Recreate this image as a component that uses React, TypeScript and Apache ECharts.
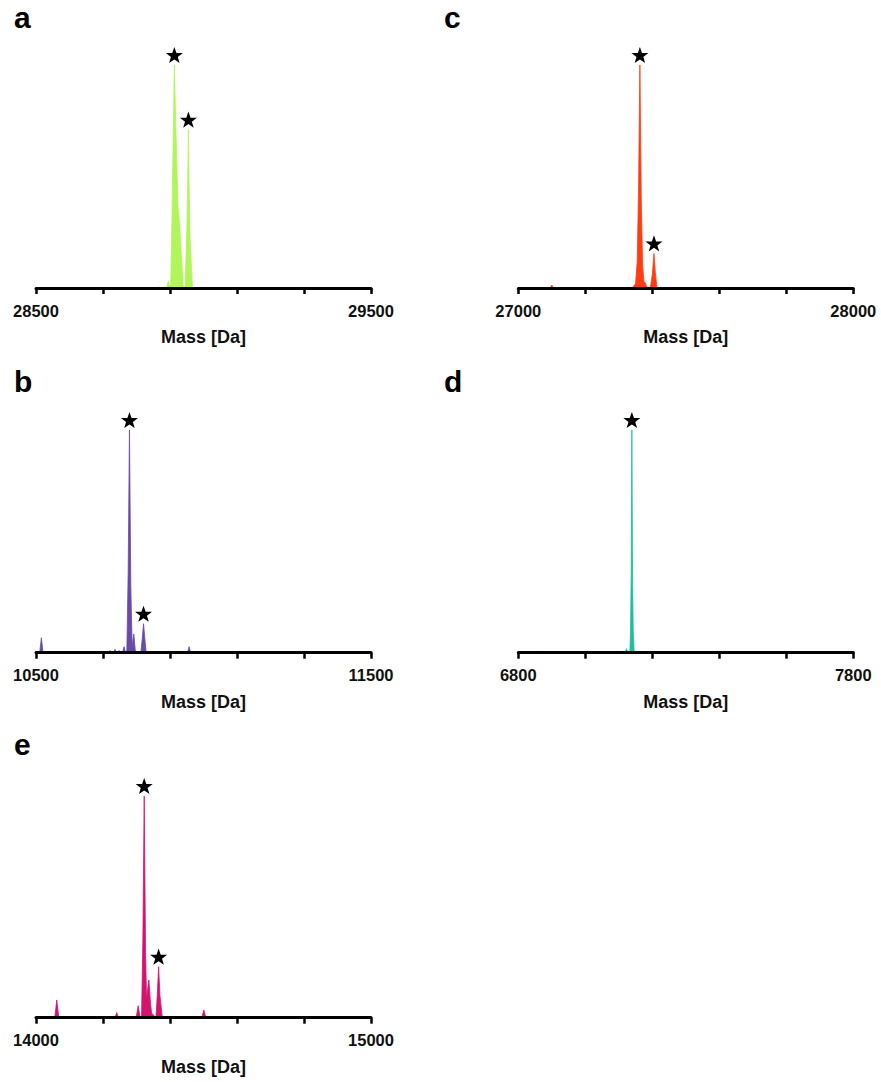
import React, { useEffect, useRef } from "react";
import * as echarts from "echarts";

// Deconvoluted mass spectra, intensity in % of the base peak.
const massA = [28500, 28858, 28865, 28872, 28890, 28895, 28899, 28902, 28906, 28909, 28913, 28916, 28920, 28924, 28927, 28933, 28940, 28945, 28950, 28953, 28955, 28957, 28960, 28967, 29500];
const intensityA = [0, 0, 0.5, 0, 0, 3, 1, 1, 32, 62, 100, 80, 58, 36, 32, 17, 0, 0, 25, 50, 71, 46, 22, 0, 0];
const starsA = [28913, 28955];

const massB = [10500, 10511, 10516, 10521, 10717, 10721, 10725, 10732, 10736, 10740, 10744, 10748, 10752, 10758, 10763, 10767, 10771, 10775, 10779, 10783, 10787, 10792, 10797, 10813, 10817, 10821, 10825, 10829, 10952, 10957, 10962, 11500];
const intensityB = [0, 0, 6.7, 0, 0, 1, 0, 0, 1.5, 0, 0, 1, 0, 0, 2.7, 0, 0, 35, 100, 30, 3, 8.4, 0, 0, 6, 13, 6, 0, 0, 2.7, 0, 0];
const starsB = [10779, 10821];

const massC = [27000, 27095, 27100, 27105, 27340, 27345, 27350, 27355, 27359, 27363, 27367, 27371, 27375, 27380, 27384, 27394, 27400, 27405, 27409, 27414, 28000];
const intensityC = [0, 0, 1.3, 0, 0, 1, 2, 12, 45, 100, 40, 10, 3, 2, 0, 0, 6, 15.5, 7, 0, 0];
const starsC = [27363, 27405];

const massD = [6800, 6872, 6876, 6880, 7003, 7007, 7011, 7090, 7094, 7098, 7119, 7123, 7127, 7133, 7135, 7137, 7139, 7141, 7143, 7146, 7164, 7168, 7172, 7314, 7318, 7322, 7392, 7396, 7400, 7800];
const intensityD = [0, 0, 0.6, 0, 0, 0.6, 0, 0, 0.6, 0, 0, 1.8, 0, 0, 10, 35, 100, 35, 10, 0, 0, 0.6, 0, 0, 0.6, 0, 0, 0.6, 0, 0];
const starsD = [7139];

const massE = [14000, 14056, 14062, 14068, 14236, 14241, 14246, 14299, 14305, 14311, 14315, 14319, 14323, 14327, 14330, 14334, 14337, 14341, 14345, 14352, 14358, 14362, 14366, 14370, 14377, 14495, 14501, 14507, 15000];
const intensityE = [0, 0, 8, 0, 0, 2.3, 0, 0, 5.4, 0, 0, 35, 100, 30, 8, 14, 17, 8, 2, 1, 0, 10, 23, 10, 0, 0, 3.5, 0, 0];
const starsE = [14323, 14366];

const panelLetters = ["a", "b", "c", "d", "e"];
const axisMin = [28500, 10500, 27000, 6800, 14000];
const axisMax = [29500, 11500, 28000, 7800, 15000];
const tickStep = 200;
const axisTitle = "Mass [Da]";

const spectra = [
  { mass: massA, intensity: intensityA, stars: starsA, color: "#b2f55a" },
  { mass: massB, intensity: intensityB, stars: starsB, color: "#6a4aa8" },
  { mass: massC, intensity: intensityC, stars: starsC, color: "#ff3c12" },
  { mass: massD, intensity: intensityD, stars: starsD, color: "#1cbf99" },
  { mass: massE, intensity: intensityE, stars: starsE, color: "#d4136f" },
];

// plot boxes, in page pixels
const boxes = [
  { left: 36, top: 65, width: 335, height: 223 },
  { left: 36, top: 430, width: 335, height: 222.7 },
  { left: 518.3, top: 65, width: 335, height: 223 },
  { left: 518.3, top: 430, width: 335, height: 222.7 },
  { left: 36, top: 796, width: 335, height: 221.7 },
];
const letterPos = [
  { x: 14, y: 2 },
  { x: 14, y: 366 },
  { x: 444, y: 2 },
  { x: 444, y: 366 },
  { x: 14, y: 729 },
];

const FONT = "'Liberation Sans', Arial, Helvetica, sans-serif";

// five-pointed star outline used to flag the assigned peaks
function starPath(): string {
  const pts: string[] = [];
  for (let k = 0; k < 10; k++) {
    const r = k % 2 === 0 ? 50 : 20;
    const a = -Math.PI / 2 + (k * Math.PI) / 5;
    pts.push(`${(50 + r * Math.cos(a)).toFixed(2)} ${(52 + r * Math.sin(a)).toFixed(2)}`);
  }
  return "path://M" + pts.join(" L") + " Z";
}
const STAR = starPath();

function buildOption() {
  const grid = boxes.map((b) => ({ ...b, containLabel: false }));
  const xAxis = spectra.map((_, i) => {
    const lo = axisMin[i];
    const hi = axisMax[i];
    return {
      type: "value",
      gridIndex: i,
      z: 4,
      min: lo,
      max: hi,
      interval: tickStep,
      name: axisTitle,
      nameLocation: "middle",
      nameGap: 40,
      nameTextStyle: { fontFamily: FONT, fontWeight: "bold", fontSize: 18, color: "#111" },
      axisLine: { show: true, lineStyle: { color: "#000", width: 3 } },
      axisTick: { show: true, length: 6, lineStyle: { color: "#000", width: 2.5 } },
      axisLabel: {
        show: true,
        margin: 14,
        fontFamily: FONT,
        fontWeight: "bold",
        fontSize: 16.5,
        color: "#111",
        showMinLabel: true,
        showMaxLabel: true,
        formatter: (v: number) => (v === lo || v === hi ? String(v) : ""),
      },
      splitLine: { show: false },
    };
  });
  const yAxis = spectra.map((_, i) => ({
    type: "value",
    gridIndex: i,
    min: 0,
    max: 100,
    show: false,
  }));

  const series: any[] = [];
  spectra.forEach((s, i) => {
    series.push({
      type: "line",
      xAxisIndex: i,
      yAxisIndex: i,
      data: s.mass.map((m, k) => [m, s.intensity[k]]),
      showSymbol: false,
      symbol: "none",
      smooth: false,
      lineStyle: { color: s.color, width: 0.8 },
      areaStyle: { color: s.color, opacity: 1 },
      z: 1,
    });
    series.push({
      type: "scatter",
      xAxisIndex: i,
      yAxisIndex: i,
      data: s.stars.map((m) => [m, s.intensity[s.mass.indexOf(m)]]),
      symbol: STAR,
      symbolKeepAspect: true,
      symbolSize: [17, 17],
      symbolOffset: [0, -10],
      itemStyle: { color: "#000", opacity: 1 },
      clip: false,
      z: 5,
    });
  });

  const graphic = panelLetters.map((t, i) => ({
    type: "text",
    left: letterPos[i].x,
    top: letterPos[i].y,
    style: { text: t, fill: "#000", font: `bold 30px ${FONT}` },
  }));

  return {
    animation: false,
    backgroundColor: "#fff",
    grid,
    xAxis,
    yAxis,
    series,
    graphic,
  };
}

export default function App() {
  const ref = useRef<HTMLDivElement>(null);
  useEffect(() => {
    if (!ref.current) return;
    const chart = echarts.init(ref.current, undefined, { renderer: "svg" });
    chart.setOption(buildOption() as any);
    return () => chart.dispose();
  }, []);
  return (
    <div
      ref={ref}
      style={{ position: "absolute", left: 0, top: 0, width: 881, height: 1082, background: "#fff" }}
    />
  );
}
